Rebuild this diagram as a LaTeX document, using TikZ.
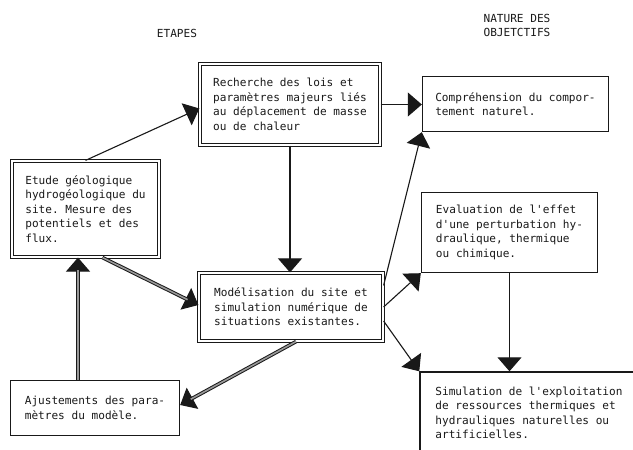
\documentclass[tikz,border=0pt]{standalone}
\usepackage{fontspec}
\setmonofont{DejaVu Sans Mono}
\usetikzlibrary{arrows.meta,calc}
\begin{document}
\begin{tikzpicture}[x=1pt,y=-1pt,
  font=\ttfamily\fontsize{11.1}{14.5}\selectfont,
  box/.style={draw=black!90, line width=1.4pt, align=left, inner sep=0pt, text=black!90},
  dbox/.style={box, double, double distance=1.6pt, line width=1.2pt},
  arr/.style={draw=black!90, line width=1.1pt, -{Triangle[length=14pt,width=24pt]}},
  dline/.style={draw=black!90, double=black!40, double distance=1.6pt, line width=1pt}]
\useasboundingbox (0,0) rectangle (633,450);
\clip (0,0) rectangle (633,450);
\fill[white] (0,0) rectangle (633,450);

\node[text=black!90] (etapes) at (177,33) {ETAPES};
\node[text=black!90, align=center, font=\ttfamily\fontsize{11.1}{14}\selectfont] (nature) at (517,25) {NATURE DES\\OBJETCTIFS};

\node[dbox, minimum width=180pt, minimum height=81pt] (rech) at (290,104.5)
  {Recherche des lois et\\paramètres majeurs liés\\au déplacement de masse\\ou de chaleur};
\node[box, minimum width=186pt, minimum height=55pt] (comp) at (515.5,104)
  {Compréhension du compor-\\tement naturel.};
\node[dbox, minimum width=147pt, minimum height=96pt] (etude) at (85.5,209)
  {Etude géologique\\hydrogéologique du\\site. Mesure des\\potentiels et des\\flux.};
\node[dbox, minimum width=184pt, minimum height=68pt] (model) at (291,307)
  {Modélisation du site et\\simulation numérique de\\situations existantes.};
\node[box, minimum width=169pt, minimum height=55pt] (ajust) at (95,408)
  {Ajustements des para-\\mètres du modèle.};
\node[box, minimum width=176pt, minimum height=80pt] (eval) at (509.5,232.5)
  {Evaluation de l'effet\\d'une perturbation hy-\\draulique, thermique\\ou chimique.};
\node[box, minimum width=218pt, minimum height=82pt] (sim) at (529,413)
  {Simulation de l'exploitation\\de ressources thermiques et\\hydrauliques naturelles ou\\artificielles.};

% single-line connectors
\draw[arr] (etude.north) -- ([yshift=-4pt]rech.west);
\draw[arr] (rech.east) -- (rech.east -| comp.west);
\draw[arr] (rech.south) -- (rech.south |- model.north);
\draw[arr] ([yshift=-13pt]model.north east) -- (comp.south west);
\draw[arr] (model.east) -- (eval.south west);
\draw[arr] ([yshift=-14pt]model.east) -- (sim.north west);
\draw[arr] (eval.south) -- (eval.south |- sim.north);

% double-line connectors (feedback loop)
\draw[arr] ([xshift=17pt]etude.south) -- ([yshift=2pt]model.west);
\draw[dline, shorten >=12pt] ([xshift=17pt]etude.south) -- ([yshift=2pt]model.west);
\draw[arr] ([xshift=-17pt]ajust.north) -- ([xshift=-17pt]ajust.north |- etude.south);
\draw[dline, shorten >=12pt] ([xshift=-17pt]ajust.north) -- ([xshift=-17pt]ajust.north |- etude.south);
\draw[arr] ([xshift=5pt]model.south) -- ([yshift=3pt]ajust.east);
\draw[dline, shorten >=12pt] ([xshift=5pt]model.south) -- ([yshift=3pt]ajust.east);
\end{tikzpicture}
\end{document}
